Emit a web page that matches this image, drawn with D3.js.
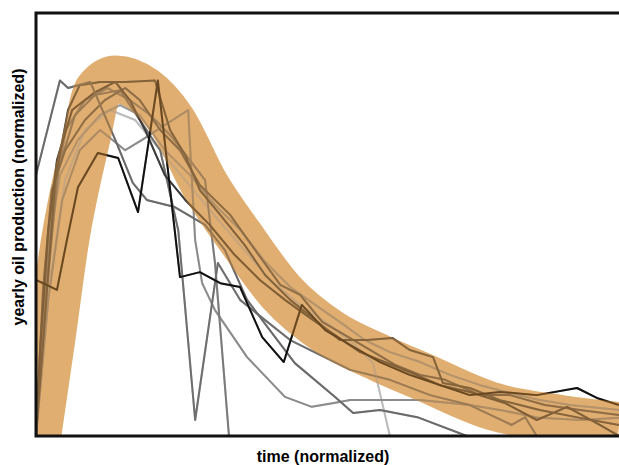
<!DOCTYPE html>
<html>
<head>
<meta charset="utf-8">
<script src="https://cdn.jsdelivr.net/npm/d3@7"></script>
<style>
  body { margin: 0; background: #fff; }
  text { font-family: "Liberation Sans", Arial, sans-serif; font-weight: bold; }
</style>
</head>
<body>
<div id="chart"></div>
<script>
// model curve (thick band)
const bandT = [0.002, 0.026, 0.05, 0.086, 0.106, 0.137, 0.185, 0.232, 0.29, 0.35, 0.422, 0.504, 0.59, 0.664, 0.786, 0.899, 1.0];
const bandV = [0, 0.27, 0.551, 0.835, 0.97, 1.003, 0.973, 0.889, 0.706, 0.56, 0.402, 0.29, 0.219, 0.166, 0.082, 0.048, 0.028];

// individual fields: [time, production], both normalized
const well1 = [[0,.439],[.036,.411],[.053,.551],[.072,.7],[.106,.796],[.141,.782],[.175,.63],[.209,1.0],[.247,.447],[.281,.461],[.316,.43],[.35,.419],[.388,.278],[.425,.208],[.456,.369],[.496,.298],[.539,.256],[.59,.208],[.641,.172],[.693,.143],[.744,.115],[.796,.124],[.859,.115],[.928,.135],[.962,.107],[1,.087]];
const well2 = [[0,.734],[.041,1.0],[.055,.979],[.093,.996],[.136,.833],[.166,.712],[.19,.664],[.238,.644],[.29,.594],[.324,.523],[.362,.383],[.401,.298],[.444,.205],[.513,.11],[.544,.065],[.59,.073],[.654,.053],[.739,0]];
const well3 = [[0,0],[.017,.383],[.038,.748],[.067,.903],[.101,.959],[.144,.973],[.178,.889],[.213,.804],[.244,.579],[.273,.045],[.312,.487],[.35,.383],[.393,.326],[.436,.27],[.487,.228],[.539,.186],[.607,.158],[.676,.115],[.744,.087],[.816,.031],[.839,.053],[.859,0]];
const well4 = [[0,0],[.01,.298],[.027,.636],[.051,.861],[.084,.945],[.123,.979],[.161,.945],[.196,.903],[.23,.847],[.264,.776],[.29,.72],[.307,.487],[.331,0]];
const well5 = [[0,0],[.021,.383],[.045,.664],[.075,.804],[.11,.861],[.153,.804],[.182,.833],[.221,.875],[.261,.917],[.273,.551],[.285,.43],[.307,.354],[.362,.222],[.427,.110],[.473,.082],[.511,.093],[.539,.101],[.59,.101],[.659,.101],[.744,.087],[.796,.073],[.864,.051],[.933,.045],[1,.051]];
const well6 = [[0,0],[.024,.439],[.05,.72],[.084,.861],[.127,.917],[.17,.889],[.213,.804],[.256,.72],[.298,.636],[.35,.537],[.401,.439],[.453,.369],[.504,.312],[.547,.256],[.578,.205],[.607,0]];
const well7 = [[0,0],[.015,.326],[.033,.72],[.055,.917],[.075,.987],[.11,.996],[.153,.996],[.204,1.0],[.23,.861],[.256,.79],[.281,.692],[.316,.622],[.358,.537],[.393,.453],[.436,.383],[.479,.326],[.521,.27],[.568,.27],[.611,.276],[.641,.242],[.681,.222],[.698,.149],[.744,.135],[.796,.101],[.864,.073],[.933,.051],[1,.031]];
const well8 = [[0,0],[.007,.242],[.021,.579],[.036,.776],[.062,.917],[.101,.967],[.136,.996],[.161,.945],[.187,.861],[.221,.734],[.256,.664],[.298,.594],[.341,.509],[.384,.439],[.427,.383],[.47,.332],[.513,.284],[.556,.236],[.599,.208],[.641,.18],[.693,.143],[.744,.124],[.804,.093],[.859,.045],[.911,.082],[.967,.031],[1,0]];
const well9 = [[0,0],[.012,.411],[.027,.692],[.05,.804],[.084,.889],[.118,.945],[.153,.979],[.178,.945],[.213,.861],[.247,.804],[.281,.706],[.333,.622],[.376,.523],[.419,.425],[.453,.397],[.491,.321],[.53,.284],[.573,.242],[.616,.2],[.659,.172],[.702,.158],[.762,.115],[.813,.115],[.873,.087],[.933,.073],[1,.059]];
const well10 = [[0,0],[.019,.495],[.041,.734],[.072,.833],[.11,.903],[.144,.931],[.178,.903],[.221,.804],[.264,.734],[.307,.65],[.35,.58],[.393,.49],[.436,.419],[.479,.369],[.521,.321],[.564,.27],[.607,.236],[.659,.208],[.71,.172],[.762,.143],[.813,.121],[.864,.101],[.916,.087],[.967,.079],[1,.073]];

const wells = [well6, well10, well5, well4, well3, well9, well8, well7, well2, well1];
const wellColors = ['#bdbdbd', '#9a9a9a', '#8c8c8c', '#7a7a7a', '#6e6e6e', '#555', '#3a3a3a', '#444', '#6a6a6a', '#111'];

const xLabel = 'time (normalized)';
const yLabel = 'yearly oil production (normalized)';

const width = 619, height = 465;
const margin = { top: 13, right: 0, bottom: 29, left: 36 };

const svg = d3.select('#chart').append('svg')
  .attr('width', width)
  .attr('height', height);

const x = d3.scaleLinear()
  .domain([0, 1])
  .range([margin.left, width - margin.right]);
const y = d3.scaleLinear()
  .domain([0, 1.19])
  .range([height - margin.bottom, margin.top]);

svg.append('clipPath').attr('id', 'plot')
  .append('rect')
  .attr('x', margin.left)
  .attr('y', margin.top)
  .attr('width', width - margin.left - margin.right)
  .attr('height', height - margin.top - margin.bottom);

const g = svg.append('g').attr('clip-path', 'url(#plot)');

const line = d3.line()
  .x(d => x(d[0]))
  .y(d => y(d[1]));

const drawWells = (opacity) => {
  g.append('g')
    .attr('opacity', opacity)
    .selectAll('path')
    .data(wells)
    .enter().append('path')
    .attr('d', line)
    .attr('fill', 'none')
    .attr('stroke', (d, i) => wellColors[i])
    .attr('stroke-width', 2)
    .attr('stroke-linejoin', 'round');
};

drawWells(1);

// the band goes on top, semi transparent
const band = d3.line()
  .x(d => x(d[0]))
  .y(d => y(d[1]))
  .curve(d3.curveMonotoneX);

g.append('path')
  .attr('d', band(bandT.map((t, i) => [t, bandV[i]])))
  .attr('fill', 'none')
  .attr('stroke', '#d48b34')
  .attr('stroke-opacity', 0.7)
  .attr('stroke-width', 48);

// faint second pass so the wells still read through the band
drawWells(0.35);

// frame: top, left, bottom
const x0 = margin.left, x1 = width - margin.right;
const y0 = margin.top, y1 = height - margin.bottom;
svg.append('path')
  .attr('d', `M${x1},${y0}H${x0}V${y1}H${x1}`)
  .attr('fill', 'none')
  .attr('stroke', '#111')
  .attr('stroke-width', 3);

svg.append('text')
  .attr('x', 323)
  .attr('y', 462)
  .attr('text-anchor', 'middle')
  .attr('font-size', 16)
  .text(xLabel);

svg.append('text')
  .attr('transform', 'translate(24,197) rotate(-90)')
  .attr('text-anchor', 'middle')
  .attr('font-size', 16)
  .text(yLabel);
</script>
</body>
</html>
